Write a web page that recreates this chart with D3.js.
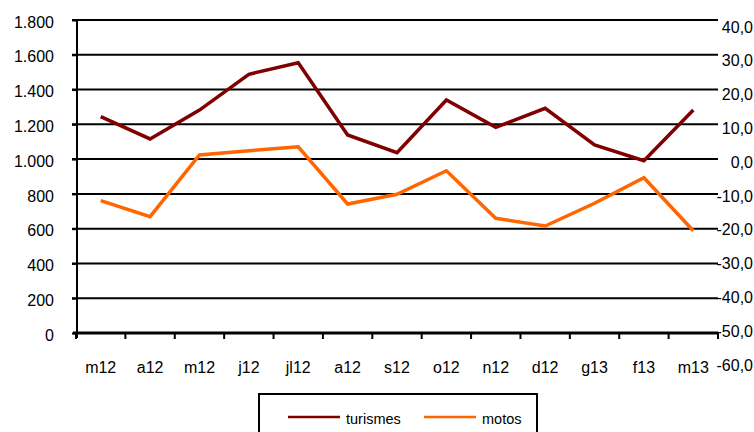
<!DOCTYPE html>
<html>
<head>
<meta charset="utf-8">
<script src="https://cdn.jsdelivr.net/npm/d3@7"></script>
<style>
  body { margin: 0; background: #fff; }
  text { font-family: "Liberation Sans", Arial, sans-serif; fill: #000; }
</style>
</head>
<body>
<script>
var months = ["m12", "a12", "m12", "j12", "jl12", "a12", "s12", "o12", "n12", "d12", "g13", "f13", "m13"];
var turismes = [1244, 1116, 1282, 1488, 1554, 1139, 1037, 1340, 1183, 1292, 1081, 991, 1282];
var motos = [761, 669, 1024, 1048, 1071, 742, 798, 933, 660, 615, 746, 893, 588];
var leftTicks = [0, 200, 400, 600, 800, 1000, 1200, 1400, 1600, 1800];
var rightTicks = [40, 30, 20, 10, 0, -10, -20, -30, -40, -50, -60];

var w = 754;
var h = 432;
var plotLeft = 77, plotRight = 718, plotTop = 20, plotBottom = 333;

var loc = d3.formatLocale({decimal: ",", thousands: ".", grouping: [3], currency: ["", "€"], minus: "-"});
var fmtL = loc.format(",.0f");
var fmtR = loc.format(".1f");

var svg = d3.select("body").append("svg")
    .attr("width", w)
    .attr("height", h);

var x = d3.scaleBand().domain(d3.range(months.length)).range([76, plotRight]);
var yL = d3.scaleLinear().domain([0, 1800]).range([plotBottom, plotTop]);
// right axis labels sit on a slightly different spacing in the original
var yR = d3.scaleLinear().domain([-60, 40]).range([365, 27]);

// gridlines
svg.selectAll("line.grid")
   .data(leftTicks.filter(function(d) { return d > 0; }))
   .enter()
   .append("line")
   .attr("x1", 72)
   .attr("x2", plotRight)
   .attr("y1", function(d) { return yL(d); })
   .attr("y2", function(d) { return yL(d); })
   .attr("stroke", "#000")
   .attr("stroke-width", 2);

// left axis labels
var gL = svg.append("g")
    .attr("transform", "translate(" + plotLeft + ",0)")
    .call(d3.axisLeft(yL).tickValues(leftTicks).tickFormat(fmtL).tickSize(5).tickPadding(18));
gL.select(".domain").remove();
gL.selectAll("line").attr("stroke", "#000").attr("stroke-width", 2);
gL.selectAll("text").attr("font-size", "16px").attr("dy", "0.45em")
   .attr("font-family", "Liberation Sans, Arial, sans-serif");

// right axis labels
var gR = svg.append("g")
    .attr("transform", "translate(753,0)")
    .call(d3.axisRight(yR).tickValues(rightTicks).tickFormat(fmtR).tickSize(0).tickPadding(0));
gR.select(".domain").remove();
gR.selectAll("text").attr("text-anchor", "end").attr("font-size", "16px")
   .attr("font-family", "Liberation Sans, Arial, sans-serif");

// left vertical axis
svg.append("line")
   .attr("x1", plotLeft).attr("x2", plotLeft)
   .attr("y1", plotTop - 1).attr("y2", plotBottom + 5)
   .attr("stroke", "#000").attr("stroke-width", 2);

// x axis
var gX = svg.append("g")
    .attr("transform", "translate(0," + plotBottom + ")")
    .call(d3.axisBottom(x).tickFormat(function(i) { return months[i]; }).tickSize(0).tickPadding(29));
gX.select(".domain").remove();
gX.selectAll("text").attr("font-size", "16px")
   .attr("font-family", "Liberation Sans, Arial, sans-serif");

svg.append("line")
   .attr("x1", 73).attr("x2", plotRight)
   .attr("y1", plotBottom).attr("y2", plotBottom)
   .attr("stroke", "#000").attr("stroke-width", 3);

svg.selectAll("line.xt")
   .data(d3.range(months.length + 1))
   .enter()
   .append("line")
   .attr("x1", function(i) { return x.range()[0] + i * x.step(); })
   .attr("x2", function(i) { return x.range()[0] + i * x.step(); })
   .attr("y1", plotBottom)
   .attr("y2", plotBottom + 6)
   .attr("stroke", "#000")
   .attr("stroke-width", 2);

// series
var line = d3.line()
    .x(function(d, i) { return x(i) + x.bandwidth() / 2; })
    .y(function(d) { return yL(d); });

svg.append("path")
   .datum(motos)
   .attr("d", line)
   .attr("fill", "none")
   .attr("stroke", "#FF6600")
   .attr("stroke-width", 3.5);

svg.append("path")
   .datum(turismes)
   .attr("d", line)
   .attr("fill", "none")
   .attr("stroke", "#800000")
   .attr("stroke-width", 3.5);

// legend
svg.append("rect")
   .attr("x", 259).attr("y", 394)
   .attr("width", 278).attr("height", 50)
   .attr("fill", "none")
   .attr("stroke", "#000")
   .attr("stroke-width", 2);

var legend = [{name: "turismes", color: "#800000", x: 288}, {name: "motos", color: "#FF6600", x: 424}];
svg.selectAll("line.leg")
   .data(legend)
   .enter()
   .append("line")
   .attr("x1", function(d) { return d.x; })
   .attr("x2", function(d) { return d.x + 52; })
   .attr("y1", 417).attr("y2", 417)
   .attr("stroke", function(d) { return d.color; })
   .attr("stroke-width", 2.5);

svg.selectAll("text.leg")
   .data(legend)
   .enter()
   .append("text")
   .text(function(d) { return d.name; })
   .attr("x", function(d) { return d.x + 58; })
   .attr("y", 424)
   .attr("font-size", "14.5px");
</script>
</body>
</html>
